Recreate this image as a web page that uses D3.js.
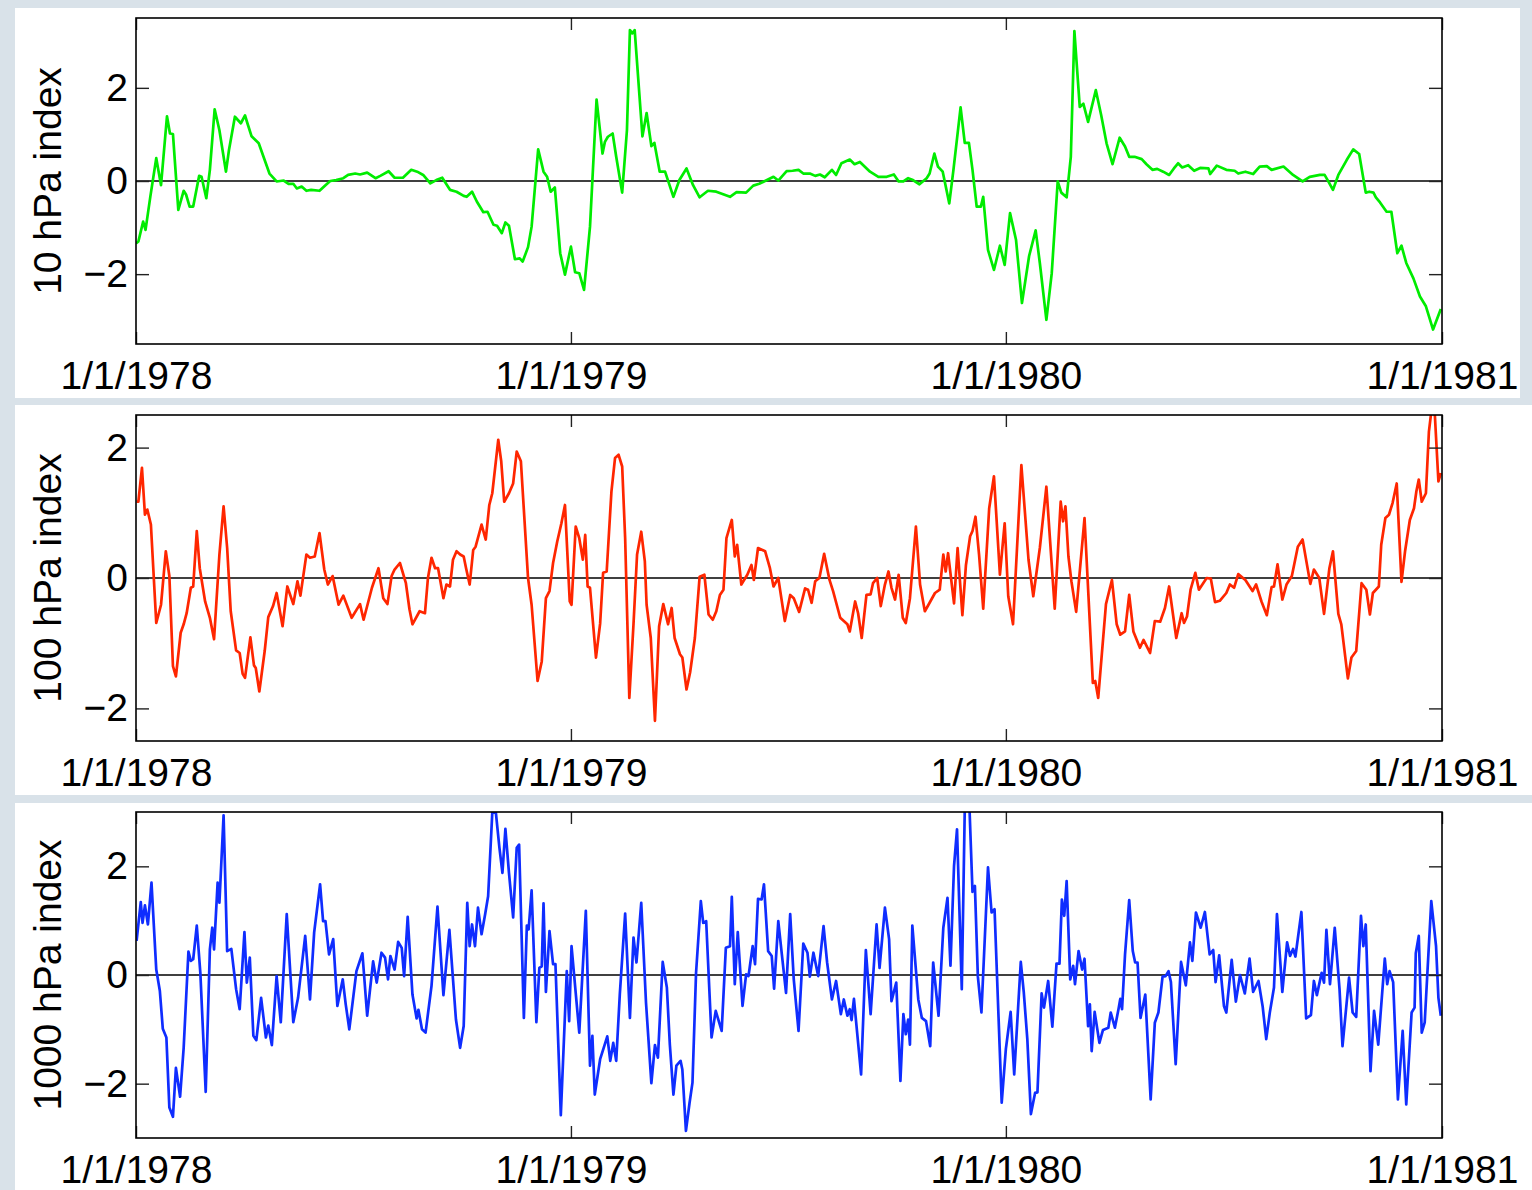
<!DOCTYPE html>
<html>
<head>
<meta charset="utf-8">
<script src="https://cdn.jsdelivr.net/npm/d3@7"></script>
<style>
  html, body { margin: 0; padding: 0; background: #d9e2e9; }
  svg { display: block; }
</style>
</head>
<body>
<svg id="chart" width="1532" height="1190"></svg>
<script>
// Daily annular-mode style indices, Jan 1978 – Dec 1980.
// Each point is [days since 1 Jan 1978, index value].
const dateTicks = ["1978-01-01", "1979-01-01", "1980-01-01", "1981-01-01"];
const yTickValues = [-2, 0, 2];

const index10hPa = [
  [0,-1.34],[2,-1.3],[6,-0.87],[8,-1.05],[12,-0.34],[17,0.49],[21,-0.09],[26,1.39],[28.5,1.02],[31,1.01],
  [35.5,-0.62],[40,-0.21],[42,-0.29],[45,-0.55],[48,-0.55],[53,0.11],[55,0.09],[59,-0.37],[62,0.24],[66,1.54],
  [70,1.09],[75.5,0.2],[78,0.66],[83,1.38],[88,1.24],[91.5,1.41],[93.5,1.24],[97,0.96],[103,0.81],[107,0.52],
  [112,0.16],[118,-0.01],[124,0.01],[128,-0.06],[132,-0.06],[135,-0.16],[139,-0.12],[143,-0.21],[147,-0.19],[154,-0.21],
  [159,-0.09],[163,0.0],[168,0.02],[174,0.06],[178,0.13],[184,0.16],[188,0.14],[194,0.18],[201,0.06],[205,0.11],
  [212,0.21],[217,0.07],[224,0.07],[231,0.24],[236,0.2],[241,0.13],[247,-0.05],[252,0.02],[257,0.07],[263.5,-0.19],
  [269,-0.23],[275,-0.32],[277.5,-0.34],[282,-0.23],[286,-0.44],[291.5,-0.67],[295,-0.66],[300,-0.94],[303,-0.96],[307,-1.12],
  [310,-0.89],[313,-0.96],[318,-1.68],[322,-1.66],[324.5,-1.73],[329,-1.42],[332,-0.98],[337.5,0.68],[342,0.2],[345,0.09],
  [348,-0.23],[351.5,-0.14],[356,-1.55],[360,-2.01],[365,-1.41],[368.5,-1.96],[372,-1.98],[376,-2.34],[381,-0.98],[386.5,1.75],
  [391.5,0.59],[393.5,0.84],[396,0.95],[400,1.02],[403,0.52],[408,-0.25],[412,1.09],[414.5,3.24],[416.5,3.17],[418.5,3.24],
  [425,0.96],[428.5,1.46],[432.5,0.75],[435,0.82],[439.5,0.2],[444,0.2],[451,-0.34],[456,0.02],[462,0.27],[467.5,-0.09],
  [473,-0.35],[480,-0.21],[487,-0.23],[498.5,-0.34],[504,-0.24],[512,-0.25],[518,-0.1],[523,-0.06],[527,-0.01],[535,0.09],
  [539,0.01],[546,0.21],[551,0.22],[556,0.24],[560,0.16],[565.5,0.16],[570,0.11],[574,0.14],[578,0.08],[584,0.24],
  [587.5,0.13],[592,0.38],[599,0.46],[603,0.36],[607.5,0.41],[616,0.2],[623,0.09],[630,0.09],[636,0.14],[640,-0.01],
  [644,-0.01],[648,0.06],[652,0.02],[657.5,-0.07],[663.5,0.06],[666,0.16],[670,0.59],[673,0.31],[677,0.2],[682.5,-0.48],
  [686,0.24],[692,1.58],[695.5,0.82],[699,0.82],[702,0.24],[705.5,-0.55],[709,-0.55],[711,-0.34],[715,-1.48],[720,-1.91],
  [725,-1.39],[729,-1.8],[733.5,-0.69],[738.5,-1.26],[743.5,-2.62],[749.5,-1.61],[755,-1.06],[758.5,-1.76],[764,-2.98],[768.5,-1.98],
  [773.5,-0.01],[776.5,-0.25],[781,-0.35],[784.5,0.52],[787.5,3.22],[792,1.59],[795,1.66],[799,1.27],[805.5,1.95],[810,1.41],
  [814.5,0.81],[819.5,0.36],[825.5,0.93],[830,0.74],[833.5,0.52],[838,0.52],[844,0.47],[848,0.36],[853,0.24],[857,0.26],
  [862,0.2],[867,0.13],[871,0.27],[874.5,0.38],[878,0.29],[883,0.34],[888,0.22],[893,0.28],[900,0.27],[901.5,0.15],
  [907,0.33],[915,0.24],[922,0.22],[925,0.16],[931,0.2],[937.5,0.15],[943,0.31],[949,0.32],[953,0.24],[963,0.31],
  [971,0.13],[979,-0.01],[985,0.09],[993.5,0.13],[997.5,0.13],[1000,0.02],[1004.5,-0.19],[1009,0.13],[1016,0.45],[1021.5,0.68],
  [1026.5,0.58],[1032,-0.25],[1035,-0.23],[1038.5,-0.25],[1040.5,-0.35],[1044,-0.46],[1049.5,-0.66],[1053.5,-0.66],[1058.5,-1.55],[1062,-1.39],
  [1066,-1.76],[1072,-2.09],[1077.5,-2.48],[1082.5,-2.69],[1088.5,-3.19],[1095,-2.75]
];

const index100hPa = [
  [0.5,1.17],[2,1.17],[5,1.69],[7.5,0.97],[9.5,1.05],[12.5,0.82],[17,-0.69],[21,-0.41],[25,0.41],[28,0.03],
  [31,-1.35],[33.5,-1.51],[37.5,-0.84],[40,-0.71],[42.5,-0.54],[46,-0.15],[48,-0.13],[51,0.72],[53.5,0.15],[58,-0.36],
  [62,-0.61],[65.5,-0.94],[70,0.36],[73.5,1.1],[76.5,0.46],[79.5,-0.51],[84,-1.11],[87,-1.15],[89.5,-1.47],[91.5,-1.53],
  [96,-0.91],[99,-1.34],[100.5,-1.38],[103.5,-1.74],[108,-1.12],[111,-0.6],[115,-0.43],[118,-0.23],[123,-0.74],[127,-0.13],
  [132,-0.4],[135.5,-0.05],[138,-0.27],[143,0.36],[146,0.31],[150,0.33],[154,0.69],[158,0.13],[161,-0.1],[165,0.03],
  [170,-0.41],[174,-0.27],[181,-0.61],[188,-0.4],[191,-0.64],[198,-0.15],[203.5,0.15],[207.5,-0.31],[211,-0.4],[214.5,0.03],
  [217,0.13],[221.5,0.23],[226.5,-0.08],[229.5,-0.48],[232,-0.71],[238,-0.51],[242.5,-0.54],[245,0],[248,0.31],[251,0.15],
  [253.5,0.15],[258,-0.31],[260.5,-0.1],[263.5,-0.13],[266,0.28],[269,0.41],[272,0.36],[275,0.33],[277,0.15],[280,-0.1],
  [283,0.43],[285,0.48],[290,0.82],[293.5,0.59],[296.5,1.12],[299,1.3],[304,2.12],[306.5,1.79],[309,1.17],[313,1.3],
  [316.5,1.45],[319.5,1.94],[323,1.79],[329,0],[332,-0.41],[337,-1.58],[340.5,-1.28],[344,-0.31],[347,-0.2],[350,0.23],
  [353.5,0.56],[357,0.84],[360,1.12],[364,-0.36],[365.5,-0.41],[369,0.79],[372,0.61],[375,0.28],[377,0.66],[379,-0.13],
  [381,-0.15],[386,-1.22],[389.5,-0.7],[392,0.08],[395,0.1],[399,1.33],[402,1.84],[405,1.89],[408,1.71],[410.5,0.61],
  [414,-1.84],[417.5,-0.71],[420.5,0.36],[424,0.71],[427,0.26],[428.5,-0.41],[432,-0.92],[435.5,-2.19],[439,-0.74],[442.5,-0.4],
  [446.5,-0.71],[449.5,-0.46],[452,-0.92],[456.5,-1.17],[458.5,-1.22],[462,-1.71],[465,-1.45],[469,-0.92],[473,0.02],[477,0.05],
  [480.5,-0.56],[484,-0.64],[487,-0.51],[490,-0.26],[493,-0.18],[495.5,0.61],[500,0.89],[502.5,0.33],[504.5,0.51],[508,-0.1],
  [513,0.05],[516.5,0.2],[518.5,-0.03],[522,0.46],[528,0.41],[532,0.15],[535,-0.13],[539,0],[544.5,-0.66],[549,-0.26],
  [552,-0.31],[556.5,-0.52],[561.5,-0.16],[564,-0.18],[567,-0.38],[570,-0.05],[573.5,0.0],[577.5,0.37],[582,-0.03],[585,-0.2],
  [591,-0.61],[594,-0.66],[597,-0.71],[599,-0.82],[603.5,-0.36],[606,-0.54],[609,-0.92],[613,-0.26],[616.5,-0.25],[618.5,-0.08],
  [622,0],[625,-0.43],[628.5,-0.1],[631.5,0.1],[634,-0.15],[637,-0.33],[640,0.05],[643.5,-0.61],[646,-0.69],[649.5,-0.31],
  [654.5,0.79],[658,-0.1],[662,-0.51],[666,-0.38],[670.5,-0.23],[674.5,-0.18],[677.5,0.36],[679.5,0.1],[681.5,0.38],[686.5,-0.39],
  [689.5,0.46],[693.5,-0.57],[696.5,0.2],[700,0.64],[702,0.72],[704.5,0.94],[707.5,0.36],[711,-0.47],[716,1.07],[720,1.56],
  [725,0.05],[729,0.84],[732,-0.28],[736,-0.71],[743,1.73],[749,0.28],[753,-0.28],[758.5,0.46],[764,1.4],[771,-0.47],
  [776,1.17],[778,0.87],[780,1.1],[782.5,0.33],[785,-0.05],[789,-0.52],[796,0.92],[803,-1.61],[805,-1.58],[807.5,-1.84],
  [814,-0.4],[819,-0.03],[823,-0.71],[826,-0.87],[830,-0.82],[833.5,-0.26],[837,-0.82],[842.5,-1.07],[845.5,-0.95],[851,-1.15],
  [855,-0.66],[859.5,-0.67],[863.5,-0.46],[867,-0.13],[873,-0.92],[877.5,-0.54],[879.5,-0.69],[882,-0.59],[885,-0.18],[889,0.08],
  [892,-0.18],[898.5,0],[902,-0.01],[905.5,-0.37],[909.5,-0.35],[915,-0.23],[918,-0.1],[921.5,-0.15],[925,0.06],[931,-0.03],
  [937,-0.2],[940,-0.1],[944.5,-0.36],[949,-0.57],[953,-0.14],[955,-0.13],[958,0.21],[962,-0.33],[965.5,-0.1],[970,0.03],
  [975,0.48],[979,0.59],[985.5,-0.09],[988.5,0.13],[993,0],[997,-0.55],[1001.5,0.15],[1004.5,0.41],[1009,-0.55],[1011.5,-0.71],
  [1017,-1.54],[1020,-1.22],[1024,-1.12],[1028.5,-0.08],[1032.5,-0.18],[1035.5,-0.56],[1038,-0.23],[1043,-0.13],[1045,0.51],[1048.5,0.92],
  [1051.5,0.97],[1054.5,1.15],[1058,1.45],[1062,-0.06],[1065,0.41],[1069,0.89],[1072.5,1.07],[1074.5,1.33],[1076.5,1.51],[1079,1.17],
  [1082.5,1.3],[1085,2.24],[1087,2.55],[1090,2.5],[1093,1.48],[1095,1.61]
];

const index1000hPa = [
  [0.5,0.63],[4,1.34],[5.5,0.96],[7.5,1.28],[10,0.93],[13,1.7],[17,0.1],[20,-0.29],[22.5,-0.99],[25.5,-1.15],
  [28,-2.44],[31,-2.61],[33.5,-1.71],[37,-2.24],[40,-1.34],[44,0.43],[46,0.26],[48,0.29],[51,0.91],[54,0.04],
  [58.5,-2.15],[62,0.47],[64,0.87],[65.5,0.47],[68.5,1.7],[70,1.33],[73.5,2.94],[76.5,0.44],[80,0.48],[84,-0.26],
  [87,-0.63],[91,0.79],[93,-0.14],[95.5,0.32],[98.5,-1.12],[101,-1.2],[105,-0.42],[109,-1.15],[111,-0.93],[114,-1.29],
  [118,-0.02],[121.5,-0.87],[126.5,1.12],[132,-0.87],[136,-0.42],[142,0.72],[146,-0.45],[149.5,0.78],[154.5,1.67],[157,0.99],
  [159,0.99],[162,0.38],[165.5,0.66],[169,-0.57],[173.5,-0.08],[176,-0.54],[179,-1.0],[185,0.07],[190,0.4],[194,-0.75],
  [199,0.25],[202,-0.14],[206,0.41],[209,0.32],[211.5,-0.08],[213.5,0.35],[217,0.1],[220,0.61],[223,0.5],[225,-0.02],
  [228,1.07],[232,-0.36],[235.5,-0.8],[237,-0.64],[240,-1.0],[243,-1.06],[248,-0.2],[253,1.26],[258,-0.37],[263,0.83],
  [268.5,-0.82],[272,-1.34],[275,-0.94],[278,1.33],[280,0.53],[282,0.93],[284.5,0.53],[287,1.24],[290,0.75],[293,1.12],
  [295.5,1.45],[299,2.99],[302,2.99],[305,2.34],[307.5,1.88],[310,2.69],[313,1.88],[316.5,1.06],[319.5,2.34],[321.5,2.4],
  [325.5,-0.79],[328,0.91],[329.5,0.84],[332,1.56],[336,-0.87],[338.5,0.13],[340.5,0.16],[342,1.32],[344,-0.31],[347,0.81],
  [350,0.2],[352,0.2],[356.5,-2.58],[361.5,0.07],[363.5,-0.85],[365.5,0.53],[372,-1.06],[377.5,1.18],[381,-1.67],[383,-1.12],
  [385,-2.2],[389.5,-1.55],[392.5,-1.34],[395.5,-1.13],[398,-1.58],[400.5,-1.25],[403,-1.58],[406,-0.36],[410.5,1.13],[414.5,-0.79],
  [417.5,0.69],[420,0.23],[424,1.33],[428,-0.51],[432.5,-1.99],[435.5,-1.29],[438,-1.52],[442,0.24],[445.5,-0.23],[448,-1.28],
  [451,-2.2],[453.5,-1.67],[457,-1.58],[458.5,-1.74],[461.5,-2.87],[464.5,-2.36],[467,-1.98],[470,0.04],[474,1.36],[476,0.96],
  [478.5,0.99],[483,-1.15],[486.5,-0.66],[491.5,-1.03],[495,0.5],[498.5,0.53],[500,1.44],[502.5,-0.17],[505,0.79],[509,-0.57],
  [512,0.01],[514,-0.02],[517.5,0.53],[519.5,0.2],[522,1.4],[525,1.39],[527,1.67],[530.5,0.44],[533.5,0.35],[535.5,-0.25],
  [539,0.99],[542,0.38],[545.5,-0.33],[549,1.12],[552,-0.08],[556,-1.03],[560,0.58],[563.5,0.41],[565.5,-0.03],[568.5,0.41],
  [572.5,-0.02],[577,0.9],[580,0.23],[584,-0.45],[587.5,-0.11],[591.5,-0.72],[594,-0.45],[597,-0.75],[599,-0.63],[600.5,-0.83],
  [602.5,-0.44],[606,-1.25],[608.5,-1.83],[612.5,0.46],[616.5,-0.72],[621.5,0.93],[624,0.13],[628.5,1.24],[632,0.66],[634,-0.48],
  [638,-0.14],[641.5,-1.95],[644,-0.72],[646,-1.09],[648,-0.82],[649.5,-1.28],[651.5,0.91],[656.5,-0.45],[659.5,-0.79],[663,-0.85],
  [666.5,-1.31],[669,0.23],[673.5,-0.75],[677.5,0.87],[681,1.42],[683.5,0.17],[686.5,2.01],[689,2.68],[693,-0.26],[695.5,3.05],
  [699.5,3.05],[702,1.53],[704,1.64],[706.5,-0.03],[709.5,-0.69],[715,1.98],[718,1.15],[720.5,1.21],[726.5,-2.35],[730,-1.36],
  [734,-0.68],[737,-1.83],[742.5,0.24],[745,-0.31],[748,-1.18],[751,-2.56],[754.5,-2.17],[756.5,-2.16],[760,-0.34],[762,-0.6],
  [765.5,-0.11],[769,-0.95],[772.5,0.21],[775,0.21],[777,1.39],[779,1.09],[781,1.73],[784,-0.08],[786.5,0.17],[788,-0.17],
  [791,0.44],[794,0.1],[796,0.3],[799,-0.94],[800.5,-0.54],[802,-1.4],[804.5,-0.68],[808.5,-1.25],[811.5,-1.01],[816,-0.97],
  [818,-0.69],[821.5,-0.97],[824.5,-0.63],[826,-0.44],[827.5,-0.63],[830,0.38],[833.5,1.38],[836.5,0.44],[838.5,0.23],[840.5,0.23],
  [843,-0.79],[847,-0.36],[851.5,-2.29],[855,-0.88],[858,-0.69],[861.5,-0.03],[864,-0.02],[866.5,0.07],[868.5,-0.13],[872.5,-1.64],
  [877,0.24],[881,-0.19],[884.5,0.6],[886.5,0.26],[889.5,1.15],[893.5,0.87],[897,1.16],[901,0.38],[904,0.46],[906,-0.13],
  [909,0.36],[913,-0.57],[915,-0.69],[919.5,0.28],[923,-0.49],[926.5,0],[930.5,-0.34],[934.5,0.3],[937.5,-0.31],[942,-0.11],
  [945.5,-0.58],[948.5,-1.18],[951.5,-0.69],[955,-0.23],[957.5,1.12],[962,-0.31],[966,0.6],[968.5,0.35],[971,0.48],[973,0.34],
  [978,1.16],[982,-0.8],[986,-0.74],[988.5,-0.11],[991,-0.37],[995,0.04],[997,-0.14],[999,0.83],[1002,-0.17],[1006,0.87],
  [1010,-0.26],[1012.5,-1.31],[1018,-0.05],[1021,-0.69],[1024,-0.77],[1028,1.09],[1030,0.53],[1032,0.93],[1036,-1.77],[1039,-0.66],
  [1042.5,-1.28],[1048,0.3],[1050,-0.17],[1052,0.07],[1055,-0.13],[1059,-2.29],[1063,-1.03],[1066,-2.38],[1070.5,-0.69],[1073,-0.6],
  [1074,0.4],[1076.5,0.72],[1079,-1.06],[1081.5,-0.87],[1087,1.36],[1091,0.53],[1093,-0.42],[1095,-0.75]
];

const panelLabels = ["10 hPa index", "100 hPa index", "1000 hPa index"];
const panelColors = ["#00ec00", "#ff2600", "#0f2dff"];
const panelDomains = [[-3.5, 3.5], [-2.5, 2.5], [-3, 3]];
const panelSeries = [index10hPa, index100hPa, index1000hPa];

// ---- layout ----
const plotLeft = 136, plotRight = 1442;
const panelTops = [18, 415, 812];
const plotHeight = 326;
const fontFamily = "'Liberation Sans', Arial, Helvetica, sans-serif";
const fontSize = 39;

const svg = d3.select("#chart");
const epoch = Date.UTC(1978, 0, 1);
const toDate = d => new Date(epoch + d * 864e5);
const tickDates = dateTicks.map(s => new Date(s + "T00:00:00Z"));

const x = d3.scaleUtc()
  .domain([tickDates[0], tickDates[tickDates.length - 1]])
  .range([plotLeft, plotRight]);

// slide-like backdrop: white cards on a pale blue-grey ground
const cards = [[15, 8, 1505, 390], [15, 405, 1517, 390], [15, 803, 1517, 387]];
svg.selectAll("rect.card").data(cards).join("rect")
  .attr("class", "card")
  .attr("x", d => d[0]).attr("y", d => d[1])
  .attr("width", d => d[2]).attr("height", d => d[3])
  .attr("fill", "#ffffff");

const minusFmt = v => (v < 0 ? "\u2212" + Math.abs(v) : String(v));
const dateFmt = d3.utcFormat("%-m/%-d/%Y");

panelSeries.forEach((series, i) => {
  const top = panelTops[i], bottom = top + plotHeight;
  const y = d3.scaleLinear().domain(panelDomains[i]).range([bottom, top]);
  const g = svg.append("g");

  const clipId = "clip" + i;
  g.append("clipPath").attr("id", clipId)
    .append("rect").attr("x", plotLeft).attr("y", top)
    .attr("width", plotRight - plotLeft).attr("height", plotHeight);

  // zero reference line
  g.append("line")
    .attr("x1", plotLeft).attr("x2", plotRight)
    .attr("y1", y(0)).attr("y2", y(0))
    .attr("stroke", "#000").attr("stroke-width", 1.3);

  const line = d3.line()
    .x(d => x(toDate(d[0])))
    .y(d => y(d[1]));

  g.append("path")
    .datum(series)
    .attr("clip-path", `url(#${clipId})`)
    .attr("d", line)
    .attr("fill", "none")
    .attr("stroke", panelColors[i])
    .attr("stroke-width", 2.7)
    .attr("stroke-linejoin", "round");

  const styleAxis = sel => {
    sel.select(".domain").remove();
    sel.selectAll(".tick line").attr("stroke", "#222").attr("stroke-width", 1.4);
    sel.selectAll("text").attr("fill", "#000");
    sel.attr("font-family", fontFamily).attr("font-size", fontSize);
  };

  g.append("g").attr("transform", `translate(0,${bottom})`)
    .call(d3.axisBottom(x).tickValues(tickDates).tickFormat(dateFmt)
      .tickSizeInner(-12).tickSizeOuter(0).tickPadding(17))
    .call(styleAxis);
  g.append("g").attr("transform", `translate(0,${top})`)
    .call(d3.axisTop(x).tickValues(tickDates).tickFormat("")
      .tickSizeInner(-12).tickSizeOuter(0))
    .call(styleAxis);
  g.append("g").attr("transform", `translate(${plotLeft},0)`)
    .call(d3.axisLeft(y).tickValues(yTickValues).tickFormat(minusFmt)
      .tickSizeInner(-13).tickSizeOuter(0).tickPadding(8))
    .call(styleAxis);
  g.append("g").attr("transform", `translate(${plotRight},0)`)
    .call(d3.axisRight(y).tickValues(yTickValues).tickFormat("")
      .tickSizeInner(-13).tickSizeOuter(0))
    .call(styleAxis);

  // plot frame
  g.append("rect")
    .attr("x", plotLeft).attr("y", top)
    .attr("width", plotRight - plotLeft).attr("height", plotHeight)
    .attr("fill", "none").attr("stroke", "#000").attr("stroke-width", 1.6);

  // y-axis title
  g.append("text")
    .attr("transform", `translate(61,${(top + bottom) / 2}) rotate(-90)`)
    .attr("text-anchor", "middle")
    .attr("font-family", fontFamily).attr("font-size", fontSize)
    .attr("fill", "#000")
    .text(panelLabels[i]);
});
</script>
</body>
</html>
